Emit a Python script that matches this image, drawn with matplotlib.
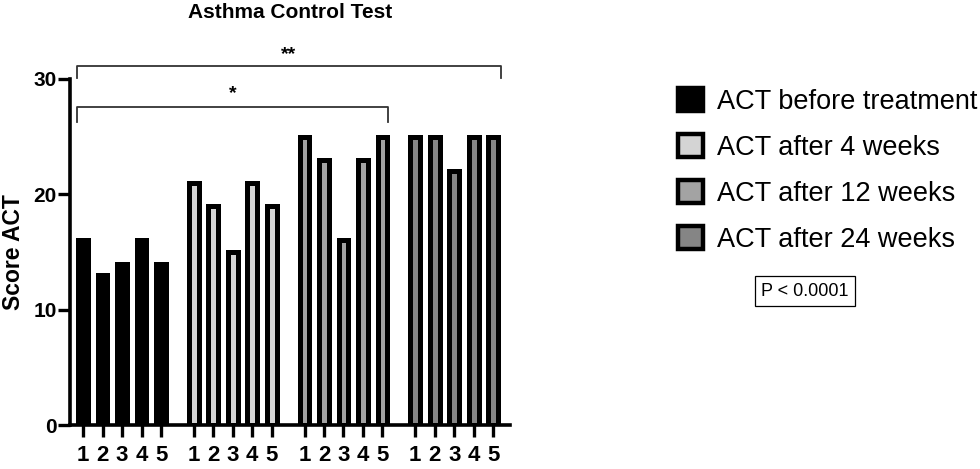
import numpy as np
import matplotlib
matplotlib.use("Agg")
import matplotlib.pyplot as plt
from matplotlib.patches import Patch

# ==========================================================
# Data
# ==========================================================

patients = ["1", "2", "3", "4", "5"]

series_names = [
    "ACT before treatment",
    "ACT after 4 weeks",
    "ACT after 12 weeks",
    "ACT after 24 weeks",
]

act_before = [16, 13, 14, 16, 14]
act_4w = [21, 19, 15, 21, 19]
act_12w = [25, 23, 16, 23, 25]
act_24w = [25, 25, 22, 25, 25]

series_values = [act_before, act_4w, act_12w, act_24w]
fill_colors = ["#000000", "#d4d4d4", "#a3a3a3", "#858585"]

# ==========================================================
# Plot
# ==========================================================

plt.rcParams["font.family"] = ["Liberation Sans", "DejaVu Sans"]

fig = plt.figure(figsize=(9.8, 4.69), dpi=100)
ax = fig.add_axes([0.0714, 0.0938, 0.449, 0.7378])

group_step = 5.68
bar_width = 0.5
positions = []

for g, (vals, col) in enumerate(zip(series_values, fill_colors)):
    x = g * group_step + np.arange(len(vals))
    positions.extend(x)
    ax.bar(
        x,
        vals,
        width=bar_width,
        color=col,
        edgecolor="black",
        linewidth=3.6,
        zorder=3,
    )

ax.set_xlim(-0.67, 21.9)
ax.set_ylim(0, 30)
ax.set_yticks([0, 10, 20, 30])
ax.set_xticks(positions)
ax.set_xticklabels(patients * 4)

for side in ["top", "right"]:
    ax.spines[side].set_visible(False)
for side in ["left", "bottom"]:
    ax.spines[side].set_linewidth(2.6)

ax.tick_params(axis="both", width=2.4, length=8.5)
ax.tick_params(axis="x", pad=6, labelsize=16)
ax.tick_params(axis="y", pad=1, labelsize=15)
for lab in ax.get_xticklabels() + ax.get_yticklabels():
    lab.set_fontweight("bold")

ax.set_ylabel("Score ACT", fontsize=16.5, fontweight="bold", labelpad=6)
ax.set_title("Asthma Control Test", fontsize=15, fontweight="bold", pad=44)

# significance brackets
left_edge = positions[0] - 0.32
end_12w = positions[14] + 0.3
end_24w = positions[19] + 0.4

ax.plot(
    [left_edge, left_edge, end_12w, end_12w],
    [26.3, 27.6, 27.6, 26.3],
    color="#333333", linewidth=1.3, clip_on=False,
)
ax.text((left_edge + end_12w) / 2, 28.0, "*", ha="center", va="bottom",
        fontsize=14, fontweight="bold")

ax.plot(
    [left_edge, left_edge, end_24w, end_24w],
    [30.1, 31.1, 31.1, 30.1],
    color="#333333", linewidth=1.3, clip_on=False,
)
ax.text((left_edge + end_24w) / 2, 31.4, "**", ha="center", va="bottom",
        fontsize=14, fontweight="bold")

# legend
handles = [
    Patch(facecolor=c, edgecolor="black", linewidth=3.2)
    for c in fill_colors
]
fig.legend(
    handles,
    series_names,
    loc="upper left",
    bbox_to_anchor=(0.692, 0.812),
    frameon=False,
    fontsize=19.5,
    handlelength=0.9,
    handleheight=0.9,
    handletextpad=0.55,
    labelspacing=0.72,
    borderpad=0,
    borderaxespad=0,
)

fig.text(
    0.8215, 0.379, "P < 0.0001",
    ha="center", va="center", fontsize=13,
    bbox=dict(boxstyle="square,pad=0.35", facecolor="white",
              edgecolor="black", linewidth=0.9),
)

plt.savefig("out.png", dpi=100)
plt.close()
